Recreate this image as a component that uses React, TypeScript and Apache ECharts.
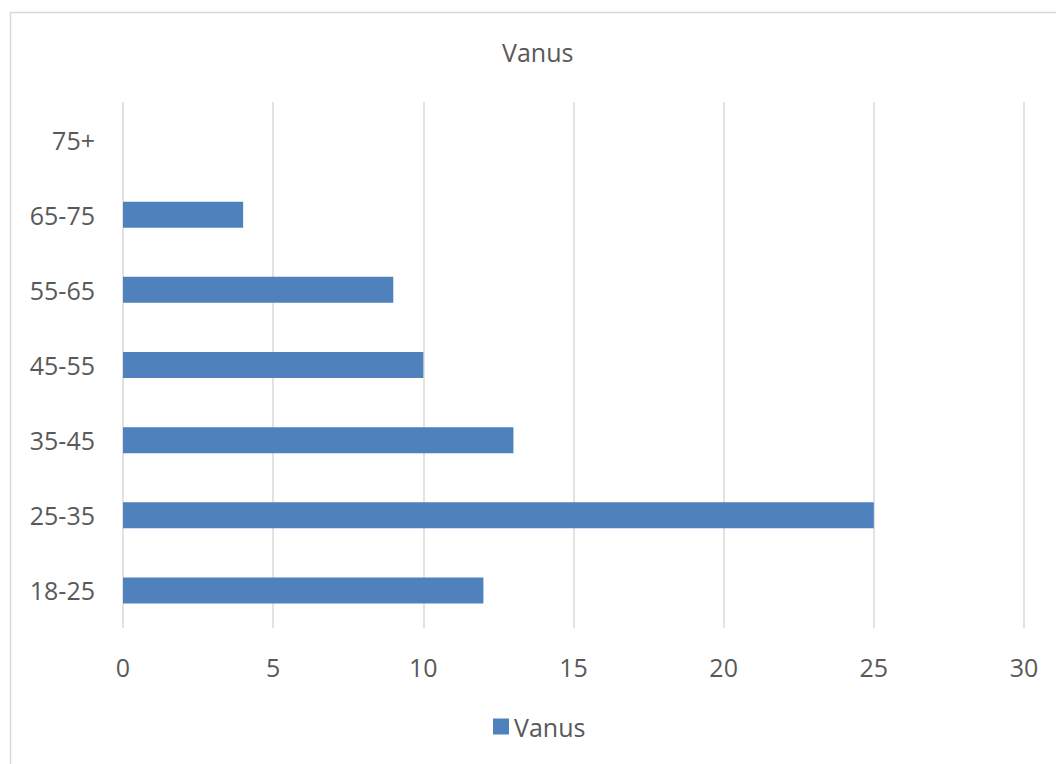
import React, { useEffect, useRef } from "react";
import * as echarts from "echarts";

const categories = ["18-25", "25-35", "35-45", "45-55", "55-65", "65-75", "75+"];
const values = [12, 25, 13, 10, 9, 4, 0];
const seriesName = "Vanus";
const titleText = "Vanus";

export default function App() {
  const ref = useRef<HTMLDivElement>(null);
  useEffect(() => {
    const chart = echarts.init(ref.current!, null, { renderer: "svg" });
    const font = "'Open Sans', 'Liberation Sans', sans-serif";
    chart.setOption({
      animation: false,
      backgroundColor: "#ffffff",
      title: {
        text: titleText,
        left: 497,
        top: 34,
        padding: 5,
        textStyle: { fontFamily: font, fontSize: 25, fontWeight: "normal", color: "#595959" },
      },
      graphic: [
        {
          type: "rect",
          shape: { x: 10.5, y: 12.5, width: 1060, height: 770 },
          style: { fill: "none", stroke: "#d9d9d9", lineWidth: 1.5 },
          silent: true,
        },
      ],
      legend: {
        bottom: 20,
        left: 488,
        itemWidth: 16,
        itemHeight: 16,
        itemGap: 10,
        icon: "rect",
        textStyle: { fontFamily: font, fontSize: 25, color: "#595959" },
        data: [seriesName],
      },
      grid: { left: 123, right: 32, top: 102, bottom: 136, containLabel: false },
      xAxis: {
        type: "value",
        min: 0,
        max: 30,
        interval: 5,
        axisLine: { show: false },
        axisTick: { show: false },
        axisLabel: { margin: 26, fontFamily: font, fontSize: 25, color: "#595959" },
        splitLine: { show: true, lineStyle: { color: "#d9d9d9", width: 1.5 } },
      },
      yAxis: {
        type: "category",
        data: categories,
        axisLine: { show: false },
        axisTick: { show: false },
        axisLabel: { margin: 28, fontFamily: font, fontSize: 25, color: "#595959" },
        splitLine: { show: false },
      },
      series: [
        {
          name: seriesName,
          type: "bar",
          data: values,
          barWidth: 26,
          itemStyle: { color: "#4f81bd" },
        },
      ],
    });
    return () => chart.dispose();
  }, []);
  return (
    <div
      ref={ref}
      style={{ position: "absolute", left: 0, top: 0, width: 1056, height: 764 }}
    />
  );
}
